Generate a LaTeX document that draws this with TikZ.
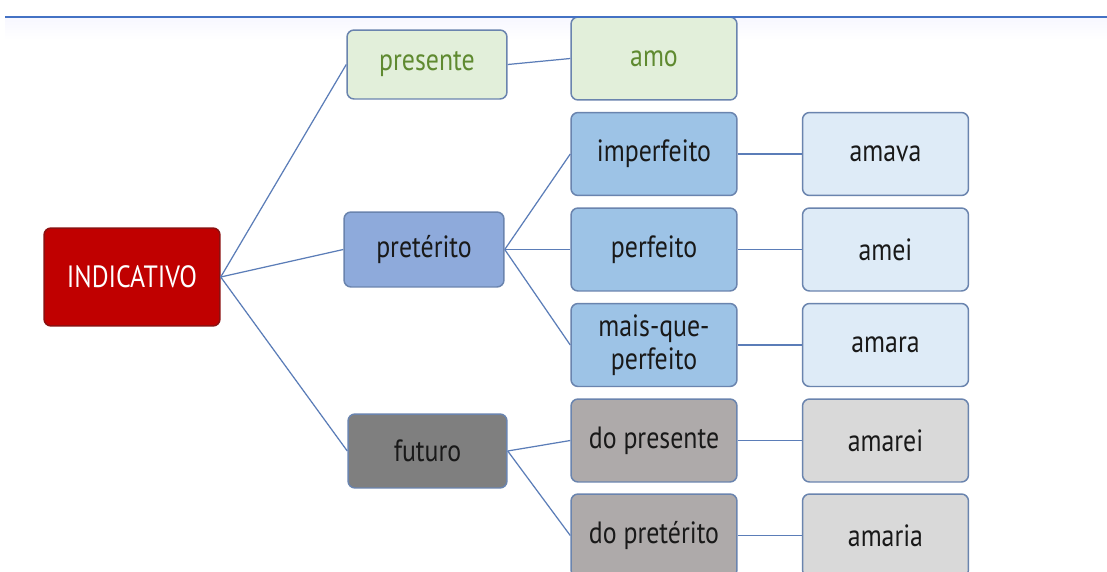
\documentclass[tikz,border=0pt]{standalone}
\usepackage{fontspec}
\setmainfont[FakeStretch=0.84]{PT Sans}
\definecolor{redfill}{HTML}{C00000}
\definecolor{reddraw}{HTML}{8C1010}
\definecolor{greenfill}{HTML}{E2EFDA}
\definecolor{greentxt}{HTML}{5F8A30}
\definecolor{bluemid}{HTML}{8EAADB}
\definecolor{bluefill}{HTML}{9DC3E6}
\definecolor{bluelight}{HTML}{DEEBF7}
\definecolor{graydark}{HTML}{7F7F7F}
\definecolor{graymid}{HTML}{AEAAAA}
\definecolor{graylight}{HTML}{D9D9D9}
\definecolor{boxline}{HTML}{6A84AE}
\definecolor{linkline}{HTML}{5B7DB8}
\definecolor{topline}{HTML}{4472C4}
\begin{document}
\begin{tikzpicture}[x=0.02cm,y=-0.02cm,
	box/.style={draw=boxline, line width=0.85pt, rounded corners=4pt,
		minimum width=3.32cm, minimum height=1.66cm, inner sep=0pt,
		align=center, text=black!90, font=\fontsize{17.5}{18.5}\selectfont},
	link/.style={draw=linkline, line width=0.7pt}]
				\clip (0,0) rectangle (1107,572);
				\fill[white] (0,0) rectangle (1107,572);
				\shade[top color=blue!3, bottom color=white] (5,18) rectangle (1107,40);
				% raiz
				\node[box, fill=redfill, draw=reddraw, text=white, minimum width=3.52cm, minimum height=1.96cm] (ind) at (132,277) {INDICATIVO};
				% tempos
				\node[box, fill=greenfill, text=greentxt, minimum width=3.2cm, minimum height=1.38cm] (pres) at (427,64.5) {presente};
				\node[box, fill=bluemid, minimum width=3.2cm, minimum height=1.5cm] (pret) at (424,249.5) {pretérito};
				\node[box, fill=graydark, minimum width=3.18cm, minimum height=1.48cm] (fut) at (427.5,451) {futuro};
				% subdivisoes
				\node[box, fill=greenfill, text=greentxt] (amo) at (654,58.5) {amo};
				\node[box, fill=bluefill] (imp) at (654,154) {imperfeito};
				\node[box, fill=bluefill] (perf) at (654,249.5) {perfeito};
				\node[box, fill=bluefill] (mqp) at (654,345) {mais-que-\\perfeito};
				\node[box, fill=graymid] (dopres) at (654,440.5) {do presente};
				\node[box, fill=graymid] (dopret) at (654,535.5) {do pretérito};
				% formas
				\node[box, fill=bluelight] (amava) at (885.5,154) {amava};
				\node[box, fill=bluelight] (amei) at (885.5,249.5) {amei};
				\node[box, fill=bluelight] (amara) at (885.5,345) {amara};
				\node[box, fill=graylight] (amarei) at (885.5,440.5) {amarei};
				\node[box, fill=graylight] (amaria) at (885.5,535.5) {amaria};
				% ligacoes
				\draw[link] (ind.east) -- (pres.west);
				\draw[link] (ind.east) -- (pret.west);
				\draw[link] (ind.east) -- (fut.west);
				\draw[link] (pres.east) -- (amo.west);
				\draw[link] (pret.east) -- (imp.west);
				\draw[link] (pret.east) -- (perf.west);
				\draw[link] (pret.east) -- (mqp.west);
				\draw[link] (fut.east) -- (dopres.west);
				\draw[link] (fut.east) -- (dopret.west);
				\draw[link] (imp) -- (amava);
				\draw[link] (perf) -- (amei);
				\draw[link] (mqp) -- (amara);
				\draw[link] (dopres) -- (amarei);
				\draw[link] (dopret) -- (amaria);
				\draw[topline, line width=1.2pt] (5,17) -- (1107,17);
			\end{tikzpicture}
\end{document}
